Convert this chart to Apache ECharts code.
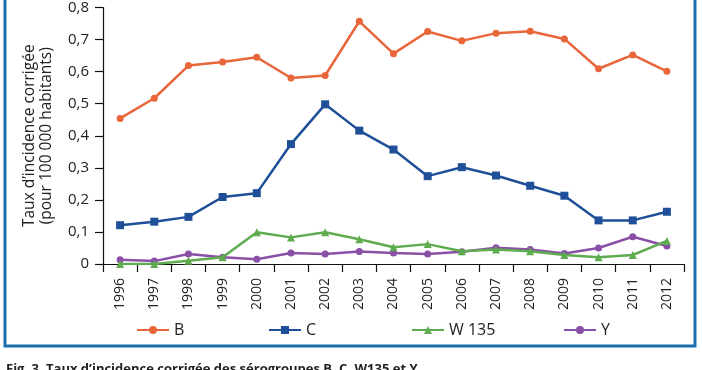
<!DOCTYPE html>
<html><head><meta charset="utf-8">
<script src="https://cdn.jsdelivr.net/npm/echarts@6/dist/echarts.min.js"></script>
<style>html,body{margin:0;padding:0;background:#fff}#c{width:702px;height:370px}</style>
</head><body><div id="c"></div>
<script>
const years = ['1996','1997','1998','1999','2000','2001','2002','2003','2004','2005','2006','2007','2008','2009','2010','2011','2012'];
const serieB = [0.454,0.517,0.619,0.630,0.645,0.580,0.588,0.757,0.656,0.725,0.696,0.720,0.726,0.702,0.609,0.652,0.601];
const serieC = [0.121,0.132,0.147,0.209,0.221,0.374,0.498,0.416,0.357,0.274,0.302,0.276,0.244,0.213,0.136,0.136,0.163];
const serieW = [0.0,0.0,0.010,0.021,0.099,0.083,0.099,0.077,0.052,0.062,0.040,0.045,0.040,0.028,0.021,0.028,0.072];
const serieY = [0.013,0.009,0.031,0.021,0.015,0.034,0.031,0.039,0.034,0.031,0.038,0.051,0.045,0.033,0.050,0.085,0.056];
const names = ['B','C','W 135','Y'];
const colors = ['#e8663a','#1f4f98','#5fab4f','#8a4fa6'];
const symbols = ['circle','rect','triangle','circle'];
const sizes = [7,8,8,7];
const values = [serieB, serieC, serieW, serieY];
const legendLeft = [131, 263, 406, 558];

const font = '"Open Sans", "DejaVu Sans", sans-serif';
const chart = echarts.init(document.getElementById('c'));
chart.setOption({
  animation:false,
  textStyle:{fontFamily:font},
  grid:{left:103,right:18,top:6,bottom:106,containLabel:false},
  xAxis:{
    type:'category', data:years, boundaryGap:true,
    axisLine:{lineStyle:{color:'#111',width:1.2}},
    axisTick:{show:true,length:8,inside:false,lineStyle:{color:'#111',width:1.2},alignWithLabel:false},
    axisLabel:{rotate:90,margin:14,fontSize:14,color:'#222',fontFamily:font}
  },
  yAxis:{
    type:'value', min:0, max:0.8, interval:0.1,
    axisLine:{show:true,lineStyle:{color:'#111',width:1.2}},
    axisTick:{show:true,length:8,lineStyle:{color:'#111',width:1.2}},
    splitLine:{show:false},
    axisLabel:{margin:14,fontSize:15,color:'#222',fontFamily:font,
      formatter:v=> v===0 ? '0' : v.toFixed(1).replace('.',',')},
    name:"Taux d\u2019incidence corrigée\n(pour 100 000 habitants)",
    nameLocation:'middle', nameRotate:90, nameGap:48,
    nameTextStyle:{fontSize:15.5,color:'#222',lineHeight:17,fontFamily:font,align:'center'}
  },
  legend: names.map((n,i)=>({
    data:[n], left:legendLeft[i], top:317, itemWidth:32, itemHeight:10, itemGap:10,
    textStyle:{fontSize:16,color:'#222',fontFamily:font}
  })),
  series: names.map((n,i)=>({
    name:n, type:'line', data:values[i],
    symbol:symbols[i], symbolSize:sizes[i], showSymbol:true,
    lineStyle:{color:colors[i],width:2.5},
    itemStyle:{color:colors[i]},
    z: 10-i
  })),
  graphic:[
    {type:'rect',shape:{x:5,y:-10,width:690,height:356},style:{fill:'none',stroke:'#1c6fae',lineWidth:3}},
    {type:'text',left:6,top:363,style:{text:'Fig. 3. Taux d\u2019incidence corrigée des sérogroupes B, C, W135 et Y',fontSize:13,fontWeight:'bold',fill:'#222',fontFamily:font}}
  ]
});
</script></body></html>
